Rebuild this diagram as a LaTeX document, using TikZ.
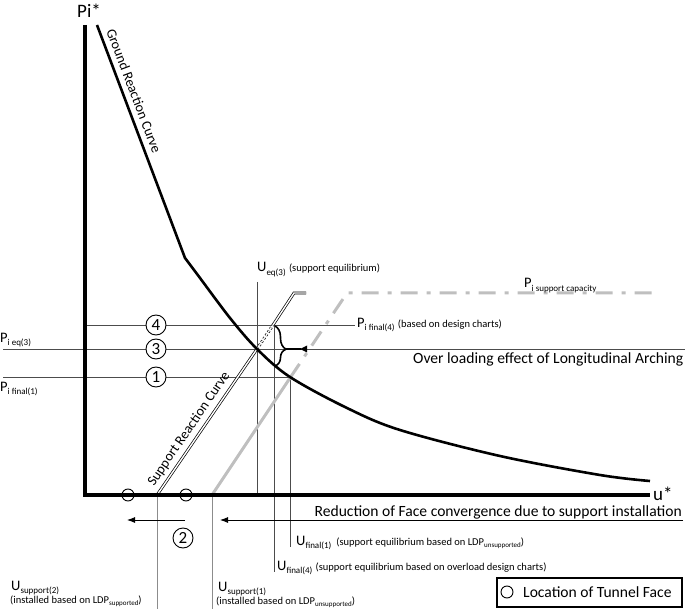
\documentclass[tikz,border=0pt]{standalone}
\usepackage{fontspec}
\setmainfont{Carlito}
\usetikzlibrary{decorations.pathreplacing,arrows.meta}
\newcommand\mysb[1]{\raisebox{-0.45ex}{\fontsize{9}{11}\selectfont #1}}
\newcommand\mysm[1]{{\fontsize{10.5}{12}\selectfont #1}}
\newcommand\mytiny[1]{\raisebox{-0.4ex}{\fontsize{7}{8}\selectfont #1}}
\begin{document}
\begin{tikzpicture}[x=1pt,y=-1pt,
  thinln/.style={draw=black!70, line width=0.8pt},
  grayv/.style={draw=black!45, line width=0.9pt},
  axisln/.style={line width=3.2pt},
  curveln/.style={line width=2.6pt, line join=round},
  dbl/.style={double, double distance=1.4pt, line width=0.7pt},
  capln/.style={draw=black!25, line width=3pt, dash pattern=on 17pt off 9pt on 4pt off 9pt},
  lbl/.style={inner sep=0pt, anchor=base west, font=\fontsize{14.5}{16}\selectfont},
  big/.style={font=\fontsize{15.6}{18}\selectfont},
  circnum/.style={circle, draw, line width=0.9pt, fill=white, minimum size=20pt, inner sep=0pt, font=\fontsize{17}{19}\selectfont},
  face/.style={circle, draw, line width=0.9pt, minimum size=12pt, inner sep=0pt},
  arr/.style={line width=0.9pt, -{Latex[length=8pt,width=6pt]}},
  curvelbl/.style={inner sep=0pt, font=\fontsize{14}{16}\selectfont},
]
\useasboundingbox (0,0) rectangle (685,609);

% reference lines
\draw[thinln] (85,325) -- (355,325);
\draw[thinln] (3,349) -- (685,349);
\draw[thinln] (3,377) -- (290,377);
\draw[thinln] (257,282) -- (257,495);
\draw[thinln] (274,325) -- (274,572);
\draw[thinln] (290,377) -- (290,547);
\draw[grayv] (157,495) -- (157,609);
\draw[grayv] (212,495) -- (212,609);

% support line based on LDP unsupported (gray)
\draw[draw=black!25, line width=3pt] (212,495) -- (290,378);
\draw[capln] (290,378) -- (347,293) -- (652,293);

% support reaction curve (double)
\draw[dbl] (157,495) -- (257,349);
\draw[dbl, dash pattern=on 2pt off 2pt] (257,349) -- (273,325);
\draw[dbl] (273,325) -- (294,293) -- (306,293);
\draw[dbl] (314,293) -- (318,293);
\draw[dbl] (326,293) -- (339,293);

% axes
\draw[axisln] (85,25) -- (85,495) -- (650,495);

% ground reaction curve
\draw[curveln] (97,25) -- (185,258) -- plot[smooth, tension=0.55] coordinates {(185,258) (200,278) (230,318) (257,349) (290,377) (347,408) (400,430) (500,456) (600,475) (650,481)};

% brace and arrow
\draw[line width=1.6pt, decorate, decoration={brace, amplitude=11pt, aspect=0.58}] (275,326) -- (275,366);
\draw[line width=1.2pt] (286,349) -- (301,349);
\fill (300,349) -- (307,345.5) -- (307,352.5) -- cycle;

% bottom arrows
\draw[arr] (683,520) -- (220,520);
\draw[arr] (185,520) -- (127,520);

% tunnel face markers
\node[face] (f1) at (128,495) {};
\node[face] (f2) at (186,495) {};

% circled numbers
\node[circnum] (c4) at (156,325) {4};
\node[circnum] (c3) at (156,349) {3};
\node[circnum] (c1) at (156,377) {1};
\node[circnum] (c2) at (183,538) {2};

% axis labels
\node[lbl, font=\fontsize{19}{21}\selectfont] (pi) at (77,18) {Pi*};
\node[lbl, font=\fontsize{19}{21}\selectfont] (us) at (653,500) {u*};

% curve labels
\node[curvelbl, rotate=-69.3] (grc) at (134,91) {Ground Reaction Curve};
\node[curvelbl, rotate=55.6] (src) at (189,429) {Support Reaction Curve};

% labels
\node[lbl] (ueq) at (257,272) {U\mysb{eq(3)} \mysm{(support equilibrium)}};
\node[lbl] (pcap) at (524,288) {P\mysb{i support capacity}};
\node[lbl] (pf4) at (357,327) {P\mysb{i final(4)} \mysm{(based on design charts)}};
\node[lbl] (peq) at (0,342) {P\mysb{i eq(3)}};
\node[lbl] (pf1) at (0,391) {P\mysb{i final(1)}};
\node[lbl, big] (over) at (413,363) {Over loading effect of Longitudinal Arching};
\node[lbl, big, anchor=base east] (red) at (682,516) {Reduction of Face convergence due to support installation};
\node[lbl] (uf1) at (296,545) {U\mysb{final(1)}\hspace{5pt}\mysm{(support equilibrium based on LDP\mytiny{unsupported})}};
\node[lbl] (uf4) at (277,570) {U\mysb{final(4)} \mysm{(support equilibrium based on overload design charts)}};
\node[lbl] (us1) at (218,591) {U\mysb{support(1)}};
\node[lbl] (us1b) at (216,604) {\mysm{(installed based on LDP\mytiny{unsupported})}};
\node[lbl] (us2) at (11,590) {U\mysb{support(2)}};
\node[lbl] (us2b) at (10,603) {\mysm{(installed based on LDP\mytiny{supported})}};

% legend
\node[draw, line width=1.2pt, minimum width=185pt, minimum height=29pt, inner sep=0pt] (leg) at (589.5,592.5) {};
\node[face] (legc) at (507,592) {};
\node[lbl, big, anchor=west] (legt) at (523,592) {Location of Tunnel Face};
\end{tikzpicture}
\end{document}
